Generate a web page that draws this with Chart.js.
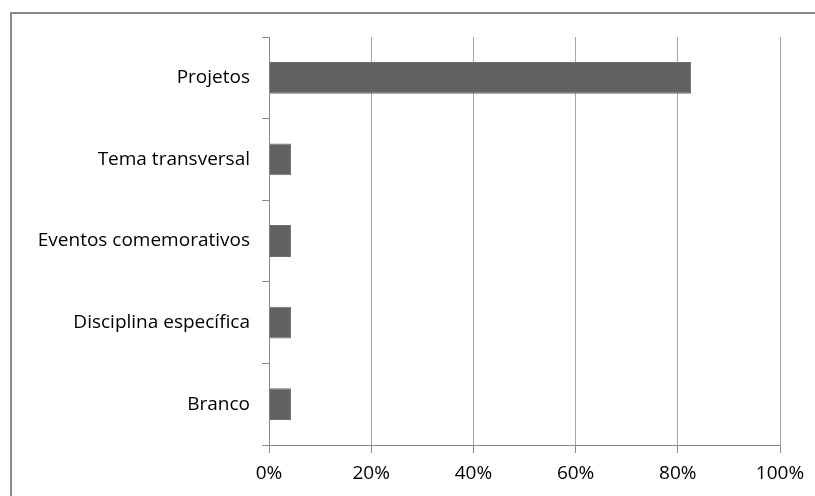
<!DOCTYPE html>
<html>
<head>
<meta charset="utf-8">
<script src="https://cdn.jsdelivr.net/npm/chart.js@4.4.0/dist/chart.umd.min.js"></script>
<style>
  html, body { margin: 0; padding: 0; background: #fff; }
  #wrap { position: relative; width: 815px; height: 496px; overflow: hidden; }
  #frame {
    position: absolute; left: 10px; top: 12px; width: 900px; height: 600px;
    border-left: 2px solid #8a8a8a; border-top: 2px solid #8a8a8a;
  }
  canvas { position: absolute; left: 0; top: 0; }
</style>
</head>
<body>
<div id="wrap">
  <div id="frame"></div>
  <canvas id="chart" width="815" height="496"></canvas>
</div>
<script>
// Categories and shares (percent)
const categories = ['Projetos', 'Tema transversal', 'Eventos comemorativos', 'Disciplina específica', 'Branco'];
const shares = [82.6, 4.3, 4.3, 4.3, 4.3];
const tickLabels = ['0%', '20%', '40%', '60%', '80%', '100%'];

const labelFont = { family: "'Open Sans', sans-serif", size: 19 };

const ctx = document.getElementById('chart').getContext('2d');
new Chart(ctx, {
  type: 'bar',
  data: {
    labels: categories,
    datasets: [{
      data: shares,
      backgroundColor: '#616161',
      borderColor: '#6f6f6f',
      borderWidth: 1,
      barPercentage: 0.39,
      categoryPercentage: 1
    }]
  },
  options: {
    indexAxis: 'y',
    responsive: false,
    animation: false,
    layout: { padding: { top: 37, right: 35, left: 0, bottom: 0 } },
    plugins: {
      legend: { display: false },
      tooltip: { enabled: false }
    },
    scales: {
      x: {
        min: 0,
        max: 100,
        ticks: {
          stepSize: 20,
          color: '#000',
          font: labelFont,
          padding: 9,
          callback: (v) => tickLabels[v / 20]
        },
        grid: {
          color: '#a6a6a6',
          tickColor: '#8a8a8a',
          tickLength: 8
        },
        border: { color: '#8a8a8a' },
        afterFit: (scale) => { scale.height = 51; }
      },
      y: {
        ticks: {
          color: '#000',
          font: labelFont,
          padding: 12
        },
        grid: {
          offset: true,
          drawOnChartArea: false,
          tickColor: '#8a8a8a',
          tickLength: 7
        },
        border: { color: '#8a8a8a' },
        afterFit: (scale) => { scale.width = 269; }
      }
    }
  }
});
</script>
</body>
</html>
